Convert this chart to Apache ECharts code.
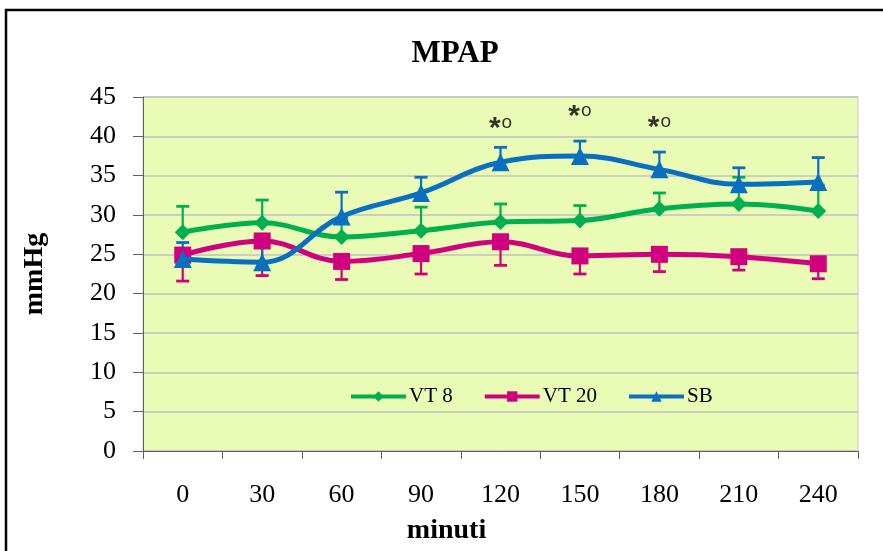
<!DOCTYPE html>
<html>
<head>
<meta charset="utf-8">
<script src="https://cdn.jsdelivr.net/npm/echarts@6/dist/echarts.min.js"></script>
<style>
html,body{margin:0;padding:0;background:#fff;}
#main{width:883px;height:551px;}
</style>
</head>
<body>
<div id="main"></div>
<script>
const categories = ['0','30','60','90','120','150','180','210','240'];
const vt8 = [27.8, 29.0, 27.2, 28.0, 29.1, 29.3, 30.8, 31.4, 30.5];
const vt8Upper = [31.1, 31.9, 29.6, 31.0, 31.4, 31.2, 32.8, 34.8, 33.8];
const vt20 = [24.9, 26.7, 24.1, 25.1, 26.6, 24.8, 25.0, 24.7, 23.8];
const vt20Lower = [21.6, 22.3, 21.8, 22.5, 23.6, 22.5, 22.8, 23.0, 21.9];
const sb = [24.4, 24.0, 29.8, 32.8, 36.7, 37.5, 35.8, 33.9, 34.2];
const sbUpper = [26.5, 26.2, 32.9, 34.8, 38.6, 39.4, 38.0, 36.0, 37.3];
const annotCats = ['120','150','180'];
const annotVals = [41.7, 43.2, 41.9];

const GREEN = '#00B050', MAGENTA = '#D1007E', BLUE = '#0B6FC1';
const SERIF = '"Liberation Serif","Times New Roman",serif';

function errData(vals, ends){ return vals.map((v,i)=>[i, v, ends[i]]); }
function errSeries(vals, ends, color){
  return {
    type:'custom', z:1, silent:true,
    data: errData(vals, ends),
    renderItem: function(params, api){
      const x = api.value(0);
      const p1 = api.coord([x, api.value(1)]);
      const p2 = api.coord([x, api.value(2)]);
      const hw = 6.5;
      return {type:'group', children:[
        {type:'line', shape:{x1:p1[0],y1:p1[1],x2:p2[0],y2:p2[1]}, style:{stroke:color, lineWidth:2.2}},
        {type:'line', shape:{x1:p2[0]-hw,y1:p2[1],x2:p2[0]+hw,y2:p2[1]}, style:{stroke:color, lineWidth:2.8}}
      ]};
    }
  };
}

const chart = echarts.init(document.getElementById('main'));
chart.setOption({
  animation:false,
  backgroundColor:'#fff',
  graphic:[{type:'rect', shape:{x:6, y:10, width:900, height:600}, style:{fill:'none', stroke:'#000', lineWidth:2.5}, z:-10}],
  title:{text:'MPAP', left:450, textAlign:'center', top:33, textStyle:{fontFamily:SERIF, fontSize:31, fontWeight:'bold', color:'#000'}},
  grid:{left:143, right:25, top:97, bottom:100, containLabel:false, outerBoundsMode:'none',
    show:true, backgroundColor:'#E9FBB5', borderColor:'#C8C8C8', borderWidth:1},
  legend:{
    left:344, top:381, itemWidth:55, itemHeight:13, itemGap:30,
    lineStyle:{width:4},
    textStyle:{fontFamily:SERIF, fontSize:21, color:'#000', padding:[0,0,0,-2]},
    data:['VT 8','VT 20','SB']
  },
  xAxis:{
    type:'category', data:categories, boundaryGap:true,
    name:'minuti', nameLocation:'middle', nameGap:66,
    nameTextStyle:{fontFamily:SERIF, fontSize:28, fontWeight:'bold', color:'#000', padding:[0,108,0,0]},
    axisLine:{lineStyle:{color:'#606060', width:1}},
    axisTick:{show:true, length:8, alignWithLabel:false, lineStyle:{color:'#606060'}},
    axisLabel:{margin:31, fontFamily:SERIF, fontSize:26, color:'#000'}
  },
  yAxis:{
    type:'value', min:0, max:45, interval:5,
    name:'mmHg', nameLocation:'middle', nameGap:94, nameRotate:90,
    nameTextStyle:{fontFamily:SERIF, fontSize:28, fontWeight:'bold', color:'#000'},
    axisLine:{show:true, lineStyle:{color:'#606060', width:1}},
    axisTick:{show:true, length:10, lineStyle:{color:'#606060'}},
    axisLabel:{margin:27, fontFamily:SERIF, fontSize:26, color:'#000'},
    splitLine:{lineStyle:{color:'#C0C0C0', width:1.5}}
  },
  series:[
    errSeries(vt8, vt8Upper, GREEN),
    errSeries(vt20, vt20Lower, MAGENTA),
    errSeries(sb, sbUpper, BLUE),
    {name:'VT 8', type:'line', z:2, data:vt8, smooth:0.4, symbol:'diamond', symbolSize:16,
      lineStyle:{color:GREEN, width:5}, itemStyle:{color:GREEN}},
    {name:'VT 20', type:'line', z:3, data:vt20, smooth:0.4, symbol:'rect', symbolSize:17,
      lineStyle:{color:MAGENTA, width:5}, itemStyle:{color:MAGENTA}},
    {name:'SB', type:'line', z:4, data:sb, smooth:0.4, symbol:'triangle', symbolSize:18,
      lineStyle:{color:BLUE, width:5}, itemStyle:{color:BLUE}},
    {type:'scatter', z:5, silent:true, symbolSize:0,
      data: annotCats.map((c,i)=>[c, annotVals[i]]),
      label:{show:true, position:'inside', formatter:'{a|*}{b|o}',
        rich:{a:{fontFamily:'"Liberation Sans",Arial,sans-serif', fontSize:30, fontWeight:'bold', color:'#000', padding:[12,1,0,0]},
              b:{fontFamily:'"Liberation Sans",Arial,sans-serif', fontSize:19, color:'#000'}}}
    }
  ]
});
</script>
</body>
</html>
